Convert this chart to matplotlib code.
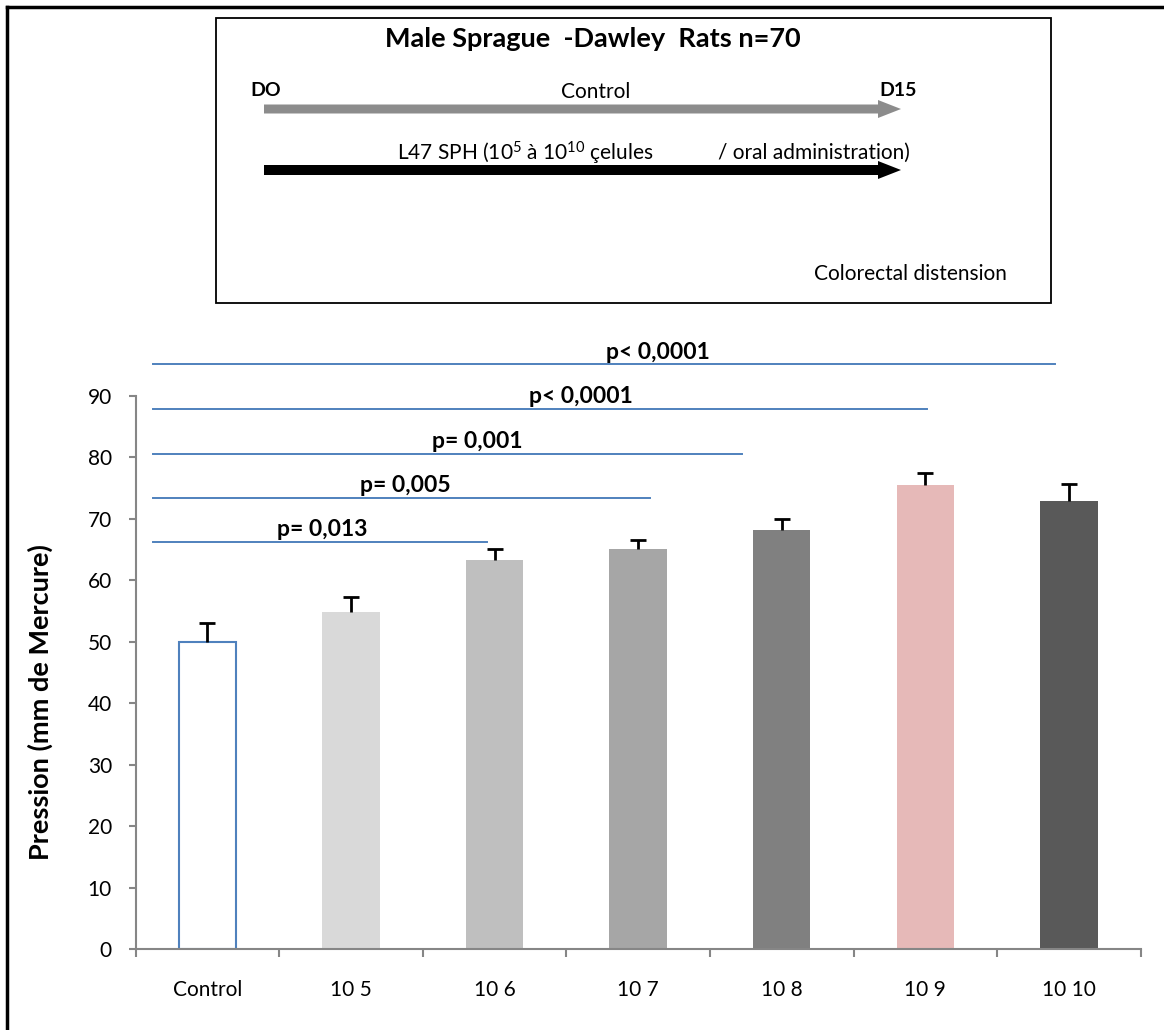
import matplotlib
matplotlib.use('Agg')
import matplotlib.pyplot as plt
from matplotlib.patches import FancyArrow, Rectangle

plt.rcParams['font.family'] = ['Lato', 'DejaVu Sans']
plt.rcParams['mathtext.default'] = 'regular'

# Data
groups = ['Control', '10 5', '10 6', '10 7', '10 8', '10 9', '10 10']
pression = [50.0, 54.8, 63.3, 65.0, 68.1, 75.4, 72.8]
erreur = [3.0, 2.5, 1.7, 1.6, 1.9, 2.0, 2.9]
bar_colors = ['white', '#d9d9d9', '#bfbfbf', '#a6a6a6', '#808080', '#e6b9b8', '#595959']

# significance brackets (comparison vs control)
sig_labels = ['p= 0,013', 'p= 0,005', 'p= 0,001', 'p< 0,0001', 'p< 0,0001']
sig_y = [66.2, 73.4, 80.6, 87.8, 95.1]
sig_end = [1.95, 3.08, 3.72, 5.01, 5.90]
sig_text_x = [0.80, 1.38, 1.88, 2.60, 3.14]

W, H = 1164, 1030
fig = plt.figure(figsize=(W / 100, H / 100), dpi=100)

# main bar chart
ax = fig.add_axes([0.1165, 0.0786, 0.8635, 0.5372])
x = list(range(len(groups)))
bars = ax.bar(x, pression, width=0.4, color=bar_colors, zorder=2)
bars[0].set_edgecolor('#4f81bd')
bars[0].set_linewidth(1.5)
eb = ax.errorbar(x, pression, yerr=[[0] * len(x), erreur], fmt='none',
                 ecolor='black', elinewidth=2, capsize=5.5, capthick=2, zorder=3)
# only the upper cap, like the original
eb[1][0].set_visible(False)

ax.set_xlim(-0.5, len(groups) - 0.5)
ax.set_ylim(0, 90)
ax.set_yticks(range(0, 91, 10))
ax.set_xticks(x)
ax.set_xticklabels(groups)
ax.set_xticks([i - 0.5 for i in range(len(groups) + 1)], minor=True)
ax.tick_params(axis='x', which='major', length=0, pad=22, labelsize=15)
ax.tick_params(axis='x', which='minor', length=6, width=1.5, color='#868686', direction='out')
ax.tick_params(axis='y', length=5, width=1.5, color='#868686', pad=12, labelsize=15)
for s in ['top', 'right']:
    ax.spines[s].set_visible(False)
for s in ['left', 'bottom']:
    ax.spines[s].set_color('#868686')
    ax.spines[s].set_linewidth(1.5)

for lab, yy, xe, xt in zip(sig_labels, sig_y, sig_end, sig_text_x):
    ax.plot([-0.38, xe], [yy, yy], color='#4f81bd', lw=1.4, clip_on=False)
    ax.text(xt, yy + 2.0, lab, ha='center', va='center', fontsize=16.5,
            fontweight='bold', clip_on=False)

# overlay in pixel coordinates for the protocol box and frame
ov = fig.add_axes([0, 0, 1, 1])
ov.set_xlim(0, W)
ov.set_ylim(H, 0)
ov.axis('off')

ov.plot([7, 7], [H, 7], color='black', lw=2.5)
ov.plot([7, W], [7, 7], color='black', lw=2.5)

ov.add_patch(Rectangle((216, 18), 835, 285, fill=False, edgecolor='black', lw=1.3))
ov.text(593, 39, 'Male Sprague  -Dawley  Rats n=70', ha='center', va='center',
        fontsize=19.5, fontweight='bold')
ov.text(250, 91, 'DO', ha='left', va='center', fontsize=14, fontweight='bold')
ov.text(596, 92, 'Control', ha='center', va='center', fontsize=15)
ov.text(879, 91, 'D15', ha='left', va='center', fontsize=14, fontweight='bold')
ov.add_patch(FancyArrow(264, 109, 637, 0, width=9, head_width=18, head_length=23,
                        length_includes_head=True, color='#8c8c8c', lw=0))
ov.add_patch(FancyArrow(264, 170, 637, 0, width=10, head_width=18, head_length=23,
                        length_includes_head=True, color='black', lw=0))
ov.text(397, 153, 'L47 SPH (10$^{5}$ à 10$^{10}$ çelules', ha='left', va='center',
        fontsize=15)
ov.text(910, 153, '/ oral administration)', ha='right', va='center', fontsize=15)
ov.text(1007, 274, 'Colorectal distension', ha='right', va='center', fontsize=15)

ov.text(40, 702, 'Pression (mm de Mercure)', rotation=90, ha='center', va='center',
        fontsize=19.5, fontweight='bold')

fig.savefig('out.png', dpi=100)
